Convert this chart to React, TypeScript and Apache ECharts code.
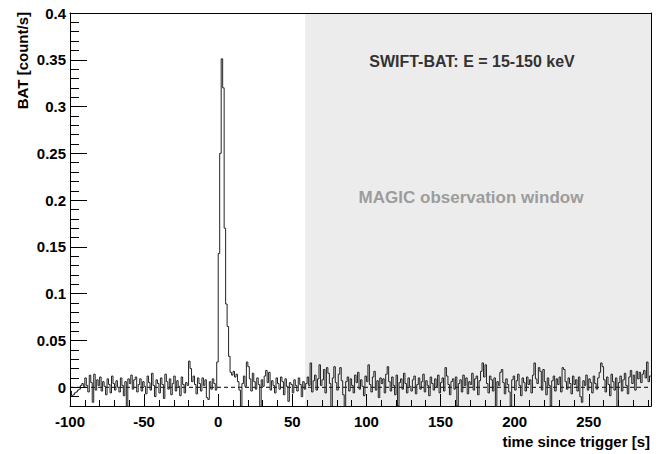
import React, { useEffect, useRef } from "react";
import * as echarts from "echarts";

// BAT light curve: 1-s bins starting at t = -100 s
const binStart = -100;
const binWidth = 1;
const rates: number[] = [
  // -100
  -0.004, -0.009, -0.008, -0.006, -0.005, -0.003, -0.002, 0.002, 0.004, 0.001,
  // -90
  0.010, 0.002, -0.005, 0.013, 0.005, -0.016, 0.014, -0.003, 0.008, 0.002,
  // -80
  0.011, -0.004, 0.006, 0.001, -0.008, 0.009, 0.003, -0.006, 0.012, 0.004,
  // -70
  -0.003, 0.007, 0.000, -0.005, 0.010, 0.002, -0.009, 0.006, -0.022, 0.009,
  // -60
  0.004, 0.013, -0.002, 0.008, 0.011, -0.005, 0.003, 0.009, -0.004, 0.006,
  // -50
  0.001, -0.007, 0.012, 0.005, -0.003, 0.015, 0.002, -0.010, 0.008, 0.004,
  // -40
  -0.006, 0.010, 0.003, -0.012, 0.014, 0.006, -0.002, 0.009, -0.008, 0.004,
  // -30
  0.012, -0.004, 0.007, 0.001, -0.009, 0.011, 0.003, -0.006, 0.005, 0.002,
  // -20
  0.028, 0.020, 0.006, 0.012, 0.003, -0.007, 0.010, 0.004, -0.004, 0.010,
  // -10
  0.002, 0.008, -0.011, -0.013, 0.006, -0.002, 0.009, 0.004, -0.003, 0.027,
  // 0
  0.143, 0.250, 0.351, 0.320, 0.170, 0.089, 0.065, 0.033, 0.016, 0.013,
  // 10
  0.017, 0.011, 0.014, 0.006, -0.003, -0.022, 0.004, 0.012, 0.001, 0.027,
  // 20
  0.022, 0.009, -0.004, 0.015, 0.006, -0.002, 0.010, 0.003, -0.021, 0.008,
  // 30
  0.001, 0.012, 0.018, 0.005, 0.016, -0.003, 0.007, 0.002, -0.006, 0.010,
  // 40
  0.004, -0.002, 0.011, 0.006, -0.008, 0.009, 0.001, -0.015, 0.005, 0.003,
  // 50
  -0.006, 0.008, 0.002, -0.004, 0.010, 0.003, -0.010, 0.006, -0.002, 0.004,
  // 60
  0.011, 0.002, 0.026, -0.005, 0.007, 0.013, -0.003, 0.009, 0.024, 0.002,
  // 70
  0.008, 0.019, -0.006, 0.021, 0.015, 0.004, -0.022, 0.010, 0.022, 0.005,
  // 80
  -0.003, 0.014, 0.021, 0.007, -0.008, -0.022, 0.006, 0.011, -0.004, 0.009,
  // 90
  0.002, -0.006, 0.013, 0.005, 0.016, -0.002, 0.008, 0.001, -0.009, 0.012,
  // 100
  0.006, 0.024, 0.003, -0.005, 0.011, 0.017, -0.003, 0.007, -0.011, 0.010,
  // 110
  0.004, 0.009, -0.006, 0.014, 0.022, 0.006, -0.004, 0.011, 0.002, -0.008,
  // 120
  0.013, -0.020, 0.005, 0.009, -0.002, 0.015, 0.004, -0.006, 0.010, 0.001,
  // 130
  -0.004, 0.008, 0.012, -0.007, 0.003, 0.010, -0.002, 0.006, 0.014, -0.005,
  // 140
  0.007, 0.002, -0.009, 0.011, 0.004, -0.003, 0.009, 0.001, 0.013, -0.006,
  // 150
  0.005, 0.010, -0.004, 0.021, 0.012, 0.003, -0.008, 0.006, 0.009, -0.002,
  // 160
  0.011, -0.020, 0.004, 0.008, -0.005, 0.013, 0.002, 0.010, -0.007, 0.006,
  // 170
  0.003, 0.015, -0.003, 0.009, 0.012, -0.008, 0.007, 0.017, 0.026, 0.011,
  // 180
  0.024, 0.004, -0.006, 0.012, 0.008, -0.004, 0.010, -0.021, 0.006, 0.002,
  // 190
  0.016, 0.019, 0.005, -0.007, 0.009, 0.003, -0.005, -0.020, 0.008, 0.012,
  // 200
  -0.003, 0.007, 0.014, 0.002, -0.009, 0.010, 0.005, -0.004, 0.011, 0.003,
  // 210
  0.008, -0.006, 0.013, 0.026, 0.009, 0.004, 0.021, 0.017, -0.003, 0.019,
  // 220
  0.006, -0.008, 0.010, 0.002, -0.020, 0.007, 0.012, -0.004, 0.009, 0.003,
  // 230
  0.011, -0.005, 0.021, 0.019, 0.006, -0.002, 0.010, 0.004, -0.007, 0.012,
  // 240
  0.003, 0.008, -0.004, 0.011, -0.010, -0.016, 0.007, 0.002, 0.013, -0.003,
  // 250
  0.009, 0.005, -0.006, 0.012, 0.004, -0.002, 0.010, 0.016, 0.026, 0.022,
  // 260
  0.008, -0.005, 0.011, 0.003, -0.009, 0.014, 0.006, -0.003, 0.010, -0.021,
  // 270
  0.005, 0.012, -0.004, 0.008, 0.015, 0.002, -0.007, 0.011, 0.018, 0.004,
  // 280
  0.013, -0.003, 0.017, 0.009, 0.016, 0.005, 0.014, 0.018, 0.010, 0.027,
  // 290
  0.006, 0.012,
];

const xRange = [-100, 292];
const yRange = [-0.02, 0.4];
const xMajorTicks = [-100, -50, 0, 50, 100, 150, 200, 250];
const yMajorTicks = [0, 0.05, 0.1, 0.15, 0.2, 0.25, 0.3, 0.35, 0.4];
const obsWindow = [58.7, 292];
const baseline = 0;

const titleText = "SWIFT-BAT: E = 15-150 keV";
const windowText = "MAGIC observation window";
const xTitle = "time since trigger [s]";
const yTitle = "BAT [count/s]";

const FONT = "'Liberation Sans', Arial, Helvetica, sans-serif";

export default function App() {
  const ref = useRef<HTMLDivElement>(null);

  useEffect(() => {
    if (!ref.current) return;
    const chart = echarts.init(ref.current, undefined, { renderer: "svg" });

    const histData: number[][] = rates.map((v, i) => [binStart + i * binWidth, v]);
    histData.push([binStart + rates.length * binWidth, rates[rates.length - 1]]);

    const fmt = (v: number) => String(parseFloat(Number(v).toFixed(3)));

    const baseX = {
      type: "value",
      min: xRange[0],
      max: xRange[1],
      splitLine: { show: false },
      z: 5,
    };
    const baseY = {
      type: "value",
      min: yRange[0],
      max: yRange[1],
      splitLine: { show: false },
      z: 5,
    };
    const line = { show: true, onZero: false, lineStyle: { color: "#000", width: 1 } };
    const noLine = { show: false, onZero: false };

    chart.setOption({
      animation: false,
      backgroundColor: "#ffffff",
      grid: { left: 70, right: 16, top: 13, bottom: 48 },
      xAxis: [
        {
          ...baseX,
          position: "bottom",
          interval: 10,
          axisLine: line,
          axisTick: { show: true, inside: true, length: 6, lineStyle: { color: "#000" } },
          axisLabel: { show: false },
        },
        {
          ...baseX,
          position: "bottom",
          axisLine: noLine,
          axisTick: {
            show: true,
            inside: true,
            length: 12,
            customValues: xMajorTicks,
            lineStyle: { color: "#000" },
          },
          axisLabel: {
            show: true,
            customValues: xMajorTicks,
            formatter: fmt,
            color: "#000",
            fontFamily: FONT,
            fontWeight: "bold",
            fontSize: 15,
            margin: 8,
          },
        },
        {
          ...baseX,
          position: "top",
          axisLine: line,
          axisTick: { show: false },
          axisLabel: { show: false },
        },
      ],
      yAxis: [
        {
          ...baseY,
          position: "left",
          interval: 0.01,
          axisLine: line,
          axisTick: { show: true, inside: true, length: 9, lineStyle: { color: "#000" } },
          axisLabel: { show: false },
        },
        {
          ...baseY,
          position: "left",
          axisLine: noLine,
          axisTick: {
            show: true,
            inside: true,
            length: 17,
            customValues: yMajorTicks,
            lineStyle: { color: "#000" },
          },
          axisLabel: {
            show: true,
            customValues: yMajorTicks,
            formatter: fmt,
            color: "#000",
            fontFamily: FONT,
            fontWeight: "bold",
            fontSize: 15,
            margin: 4,
          },
        },
        {
          ...baseY,
          position: "right",
          axisLine: line,
          axisTick: { show: false },
          axisLabel: { show: false },
        },
      ],
      series: [
        {
          type: "line",
          name: "zero",
          xAxisIndex: 0,
          yAxisIndex: 0,
          data: [
            [xRange[0], baseline],
            [xRange[1], baseline],
          ],
          symbol: "none",
          silent: true,
          z: 3,
          lineStyle: { color: "#000", width: 1, type: [4, 3] },
          markArea: {
            silent: true,
            itemStyle: { color: "#ececec" },
            data: [[{ xAxis: obsWindow[0] }, { xAxis: obsWindow[1] }]],
          },
        },
        {
          type: "line",
          name: "BAT",
          xAxisIndex: 0,
          yAxisIndex: 0,
          data: histData,
          step: "end",
          symbol: "none",
          silent: true,
          z: 4,
          lineStyle: { color: "#222", width: 1 },
        },
      ],
      graphic: [
        {
          type: "text",
          x: 472,
          y: 61,
          style: {
            text: titleText,
            fill: "#333",
            font: `bold 16px ${FONT}`,
            textAlign: "center",
            textVerticalAlign: "middle",
          },
          z: 10,
        },
        {
          type: "text",
          x: 471,
          y: 197,
          style: {
            text: windowText,
            fill: "#9c9c9c",
            font: `bold 17px ${FONT}`,
            textAlign: "center",
            textVerticalAlign: "middle",
          },
          z: 10,
        },
        {
          type: "text",
          x: 650,
          y: 441,
          style: {
            text: xTitle,
            fill: "#000",
            font: `bold 15px ${FONT}`,
            textAlign: "right",
            textVerticalAlign: "middle",
          },
          z: 10,
        },
        {
          type: "text",
          x: 22,
          y: 12,
          rotation: Math.PI / 2,
          style: {
            text: yTitle,
            fill: "#000",
            font: `bold 15px ${FONT}`,
            textAlign: "right",
            textVerticalAlign: "middle",
          },
          z: 10,
        },
      ],
    });

    return () => {
      chart.dispose();
    };
  }, []);

  return (
    <div
      ref={ref}
      style={{ position: "fixed", left: 0, top: 0, width: 667, height: 454, background: "#fff" }}
    />
  );
}
